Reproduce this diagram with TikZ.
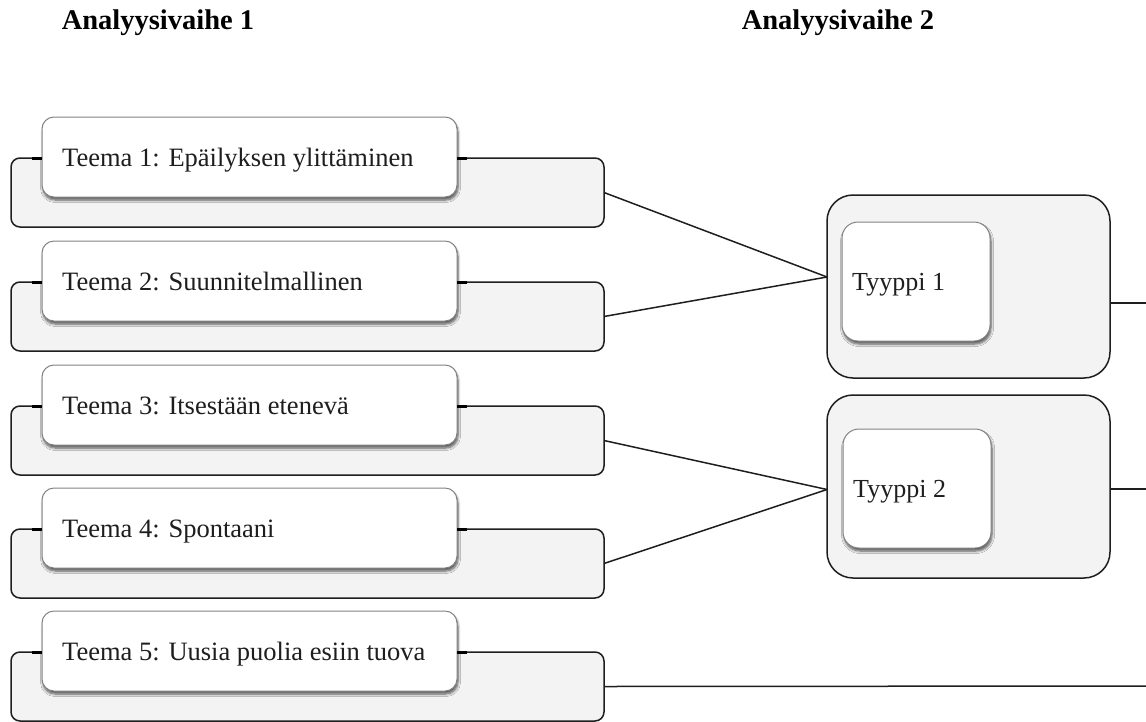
\documentclass[tikz,border=0pt]{standalone}
\usepackage{fontspec}
\setmainfont{Liberation Serif}
\usetikzlibrary{shadows.blur,calc}
\definecolor{boxgray}{RGB}{243,243,243}
\definecolor{edgecol}{RGB}{30,30,30}
\definecolor{inedge}{RGB}{130,130,130}
\definecolor{txtcol}{RGB}{30,30,30}
\tikzset{
  outerbox/.style={draw=edgecol, fill=boxgray, line width=1.5pt, rounded corners=9pt, inner sep=0pt, outer sep=0pt, anchor=north west},
  themebox/.style={outerbox, minimum width=593pt, minimum height=69pt},
  innerbox/.style={draw=inedge, fill=white, line width=1pt, inner sep=0pt, outer sep=0pt, anchor=north west,
    blur shadow={shadow xshift=1pt, shadow yshift=-3pt, shadow opacity=65, shadow blur steps=6, shadow blur radius=2.5pt}},
  themeinner/.style={innerbox, rounded corners=12pt, minimum width=415pt, minimum height=80pt},
  typebox/.style={outerbox, rounded corners=26pt, minimum width=283pt, minimum height=183pt},
  typeinner/.style={innerbox, rounded corners=16pt, minimum width=148pt, minimum height=119pt},
  lbl/.style={anchor=base west, inner sep=0pt, text=txtcol, font=\fontsize{26.5}{30}\selectfont},
  typelbl/.style={anchor=base west, inner sep=0pt, text=txtcol, font=\fontsize{26}{30}\selectfont},
  title/.style={anchor=base, inner sep=0pt, text=black, font=\fontsize{28.5}{32}\selectfont\bfseries},
  conn/.style={draw=edgecol, line width=1.5pt},
  tick/.style={draw=black, line width=3pt},
}
\begin{document}
\begin{tikzpicture}[x=1pt,y=-1pt]
\useasboundingbox (0,0) rectangle (1146,721);
\node[title] (h1) at (158,29) {Analyysivaihe 1};
\node[title] (h2) at (838,29) {Analyysivaihe 2};

\foreach \n/\t/\txt in {1/158/{Teema 1: Epäilyksen ylittäminen},
                        2/282/{Teema 2: Suunnitelmallinen},
                        3/406/{Teema 3: Itsestään etenevä},
                        4/529/{Teema 4: Spontaani},
                        5/652/{Teema 5: Uusia puolia esiin tuova}} {
  \node[themebox] (o\n) at (11,\t) {};
  \coordinate (tl\n) at (32,\t);
  \coordinate (tr\n) at (467,\t);
  \node[themeinner] (i\n) at (42,\t-41) {};
  \draw[tick] (tl\n) -- (i\n.west |- tl\n);
  \draw[tick] (i\n.east |- tr\n) -- (tr\n);
  \node[lbl] (l\n) at (62,\t+8) {\txt};
}

\node[typebox] (t1) at (827,195) {};
\node[typeinner] (ti1) at (842,222) {};
\node[typelbl] (tl1x) at (852,290) {Tyyppi 1};

\node[typebox] (t2) at (827,395) {};
\node[typeinner] (ti2) at (843,429) {};
\node[typelbl] (tl2x) at (853,497) {Tyyppi 2};

\coordinate (e1) at (1146,303);
\coordinate (e2) at (1146,489);
\coordinate (e5) at (1146,686);

\draw[conn] (o1.east) -- ([yshift=9.5pt]t1.west);
\draw[conn] (o2.east) -- ([yshift=9.5pt]t1.west);
\draw[conn] (o3.east) -- ([yshift=-3pt]t2.west);
\draw[conn] (o4.east) -- ([yshift=-3pt]t2.west);
\draw[conn] (t1.east |- e1) -- (e1);
\draw[conn] (t2.east |- e2) -- (e2);
\draw[conn] (o5.east) -- (e5);
\end{tikzpicture}
\end{document}
